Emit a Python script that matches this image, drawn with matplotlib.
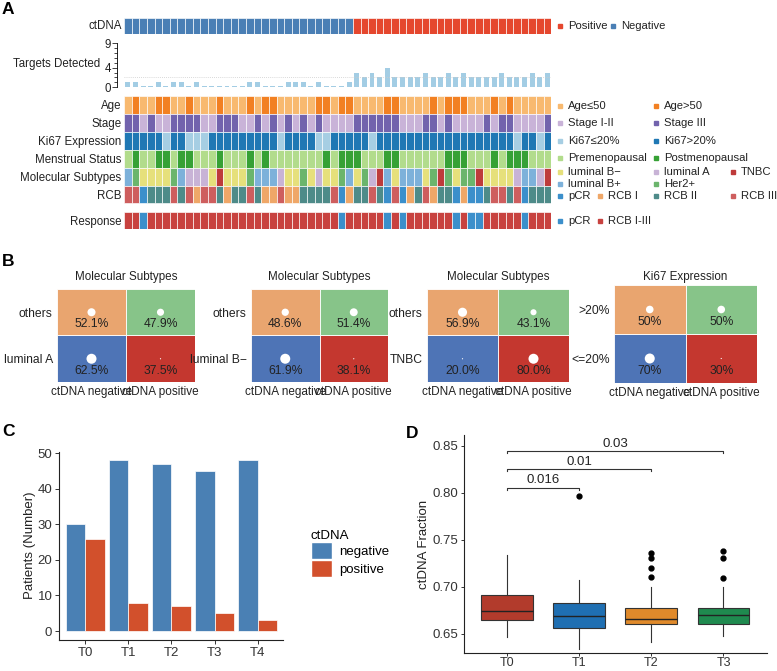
import numpy as np
import matplotlib
matplotlib.use("Agg")
import matplotlib.pyplot as plt
from matplotlib.patches import Patch

plt.rcParams['font.family'] = ['Liberation Sans', 'DejaVu Sans']

# --- Panel A data (56 patients) ---
ctdna = [0, 0, 0, 0, 0, 0, 0, 0, 0, 0, 0, 0, 0, 0, 0, 0, 0, 0, 0, 0, 0, 0, 0, 0, 0, 0, 0, 0, 0, 0,
         1, 1, 1, 1, 1, 1, 1, 1, 1, 1, 1, 1, 1, 1, 1, 1, 1, 1, 1, 1, 1, 1, 1, 1, 1, 1]
targets = [1, 1, 0, 0, 1, 0, 1, 1, 0, 1, 0, 0, 0, 0, 0, 0, 1, 1, 0, 0, 0, 1, 1, 1, 0, 1, 0, 0, 0, 1,
           3, 2, 3, 2, 4, 2, 2, 2, 2, 3, 2, 2, 3, 2, 3, 2, 2, 2, 2, 3, 2, 2, 2, 3, 2, 3]
age = [0, 1, 0, 0, 1, 1, 0, 0, 1, 0, 0, 0, 1, 0, 0, 0, 1, 0, 1, 1, 0, 0, 0, 0, 0, 1, 1, 0, 1, 1,
       0, 0, 0, 0, 1, 1, 0, 0, 0, 0, 1, 0, 1, 1, 1, 0, 0, 0, 1, 0, 1, 0, 0, 0, 0, 0]
stage = [1, 1, 0, 1, 0, 0, 1, 1, 1, 1, 0, 0, 1, 1, 1, 0, 0, 1, 0, 1, 0, 1, 0, 1, 0, 1, 0, 0, 0, 0,
         1, 1, 1, 1, 1, 1, 0, 0, 0, 1, 1, 0, 1, 0, 0, 0, 0, 1, 0, 1, 1, 0, 0, 0, 0, 1]
ki67 = [1, 1, 1, 1, 1, 0, 1, 1, 0, 0, 0, 1, 1, 1, 1, 1, 1, 1, 1, 1, 0, 1, 1, 1, 1, 0, 0, 1, 1, 1,
        1, 1, 0, 1, 1, 1, 1, 1, 1, 1, 1, 1, 1, 1, 1, 1, 1, 1, 1, 1, 1, 0, 1, 1, 0, 1]
menstrual = [0, 1, 0, 0, 1, 1, 0, 1, 1, 0, 0, 0, 1, 0, 0, 0, 1, 0, 1, 0, 0, 0, 0, 0, 0, 0, 1, 0, 1, 1,
             1, 0, 0, 0, 1, 1, 0, 0, 0, 0, 0, 0, 1, 1, 1, 0, 0, 0, 1, 0, 1, 1, 1, 0, 0, 0]
subtype = [3, 4, 0, 0, 0, 0, 4, 3, 1, 1, 1, 0, 2, 0, 0, 0, 4, 3, 3, 3, 1, 0, 0, 4, 0, 1, 0, 0, 4, 3,
           0, 4, 1, 2, 3, 0, 3, 3, 3, 0, 4, 2, 4, 0, 4, 4, 2, 0, 0, 0, 0, 1, 3, 3, 1, 2]
rcb = [3, 3, 0, 2, 2, 2, 3, 2, 3, 1, 3, 3, 2, 1, 2, 2, 3, 2, 1, 1, 3, 1, 1, 2, 2, 2, 2, 3, 0, 1,
       2, 2, 3, 2, 0, 3, 0, 1, 2, 3, 1, 2, 2, 0, 1, 0, 0, 2, 3, 3, 2, 3, 0, 2, 2, 2]
response = [1, 1, 0, 1, 1, 1, 1, 1, 1, 1, 1, 1, 1, 1, 1, 1, 1, 1, 1, 1, 1, 1, 1, 1, 1, 1, 1, 1, 0, 1,
            1, 1, 1, 1, 0, 1, 0, 1, 1, 1, 1, 1, 1, 0, 1, 0, 0, 1, 1, 1, 1, 1, 0, 1, 1, 1]

ctdna_colors = ['#4A7FB5', '#E5472E']
age_colors = ['#F8B96F', '#F28022']
stage_colors = ['#C9B3D8', '#7263AD']
ki67_colors = ['#A6CEE3', '#1F78B4']
mens_colors = ['#B2DC8C', '#36A135']
subtype_colors = ['#E6E07B', '#C8B3D6', '#BE3B3B', '#7DB1DA', '#6BB56C']
rcb_colors = ['#3B8FCB', '#EFA768', '#4E8B89', '#CE5E5E']
resp_colors = ['#3B8FCB', '#C8423F']
target_color = '#A3CDE4'

main_rows = ['Age', 'Stage', 'Ki67 Expression', 'Menstrual Status', 'Molecular Subtypes', 'RCB']

# --- Panel B data (row-wise percentages: ctDNA negative, ctDNA positive) ---
b_titles = ['Molecular Subtypes', 'Molecular Subtypes', 'Molecular Subtypes', 'Ki67 Expression']
b_rows = [['others', 'luminal A'], ['others', 'luminal B\u2212'], ['others', 'TNBC'], ['>20%', '<=20%']]
b_top = [[52.1, 47.9], [48.6, 51.4], [56.9, 43.1], [50, 50]]
b_bottom = [[62.5, 37.5], [61.9, 38.1], [20.0, 80.0], [70, 30]]
b_fmt = ['{:.1f}%', '{:.1f}%', '{:.1f}%', '{:.0f}%']
b_cols = ['ctDNA negative', 'ctDNA positive']

# --- Panel C data ---
timepoints = ['T0', 'T1', 'T2', 'T3', 'T4']
n_negative = [30, 48, 47, 45, 48]
n_positive = [26, 8, 7, 5, 3]

# --- Panel D data (box statistics) ---
d_groups = ['T0', 'T1', 'T2', 'T3']
d_q1 = [0.6646, 0.6563, 0.6608, 0.6608]
d_med = [0.6743, 0.6688, 0.6660, 0.6705]
d_q3 = [0.6918, 0.6830, 0.6771, 0.6771]
d_lo = [0.6472, 0.6340, 0.6417, 0.6479]
d_hi = [0.7341, 0.7070, 0.7001, 0.7001]
d_fliers = [[], [0.7968], [0.7362, 0.7310, 0.7203, 0.7105], [0.7383, 0.7307, 0.7098]]
d_colors = ['#B23B2C', '#1F6FB2', '#E08A2B', '#1F8A4F']
d_pairs = [(0, 1), (0, 2), (0, 3)]
d_pvals = ['0.016', '0.01', '0.03']
d_levels = [0.8051, 0.8247, 0.8442]

W, H = 777, 671
fig = plt.figure(figsize=(W / 100, H / 100), dpi=100)


def add_ax(x0, y0, x1, y1):
    return fig.add_axes([x0 / W, 1 - y1 / H, (x1 - x0) / W, (y1 - y0) / H])


TXT = '#222222'
cols = np.arange(len(ctdna))
XL, XR = 124, 551.3


def cell_row(ax, values, palette, bottom=0):
    ax.bar(cols, 1, bottom=bottom, width=1, color=[palette[v] for v in values],
           edgecolor='white', linewidth=0.45)


# ctDNA row
ax_ct = add_ax(XL, 18, XR, 34.3)
cell_row(ax_ct, ctdna, ctdna_colors)
ax_ct.set_xlim(-0.5, len(cols) - 0.5)
ax_ct.set_ylim(0, 1)
ax_ct.axis('off')

# targets detected barplot
ax_tg = add_ax(XL, 43, XR, 87.3)
tg = np.array(targets, dtype=float)
ax_tg.bar(cols, np.where(tg == 0, 0.2, tg), width=0.65, color=target_color)
ax_tg.axhline(2, color='#CCCCCC', lw=0.6, ls=(0, (1, 1.5)))
ax_tg.set_xlim(-0.5, len(cols) - 0.5)
ax_tg.set_ylim(0, 9)
for s in ['top', 'right', 'bottom']:
    ax_tg.spines[s].set_visible(False)
ax_tg.spines['left'].set_position(('outward', 5))
ax_tg.spines['left'].set_linewidth(0.6)
ax_tg.set_xticks([])
ax_tg.set_yticks([0, 4, 9])
ax_tg.set_yticks(range(10), minor=True)
ax_tg.tick_params(axis='y', which='major', length=3.5, width=0.6, labelsize=8.3, pad=1, colors=TXT)
ax_tg.tick_params(axis='y', which='minor', length=2, width=0.5)

# main annotation block
ax_m = add_ax(XL, 96, XR, 203.5)
for i, (vals, pal) in enumerate(zip([age, stage, ki67, menstrual, subtype, rcb],
                                    [age_colors, stage_colors, ki67_colors, mens_colors,
                                     subtype_colors, rcb_colors])):
    cell_row(ax_m, vals, pal, bottom=i)
ax_m.set_xlim(-0.5, len(cols) - 0.5)
ax_m.set_ylim(len(main_rows), 0)
ax_m.set_xticks([])
ax_m.set_yticks(np.arange(len(main_rows)) + 0.5)
ax_m.set_yticklabels(main_rows, fontsize=8.3, color=TXT)
ax_m.tick_params(axis='y', length=0, pad=2)
for s in ax_m.spines.values():
    s.set_visible(False)

# response row
ax_r = add_ax(XL, 212, XR, 228.5)
cell_row(ax_r, response, resp_colors)
ax_r.set_xlim(-0.5, len(cols) - 0.5)
ax_r.set_ylim(0, 1)
ax_r.set_xticks([])
ax_r.set_yticks([0.5])
ax_r.set_yticklabels(['Response'], fontsize=8.3, color=TXT)
ax_r.tick_params(axis='y', length=0, pad=2)
for s in ax_r.spines.values():
    s.set_visible(False)

# --- Panel B ---
b_boxes = [(57, 289, 195, 382), (251, 289, 388, 382), (427, 289, 569, 382), (614, 285, 757, 383)]
cell_colors = [['#4E74B6', '#C4372F'], ['#E9A56F', '#87C489']]


def dot_diam(p):
    return 1.2 if p < 40 else min(10.0, 6.5 + (p - 45) * 0.22)


for k, box in enumerate(b_boxes):
    ax = add_ax(*box)
    rows_vals = [b_bottom[k], b_top[k]]
    for r in range(2):
        ax.bar([0.5, 1.5], 1, bottom=r, width=1, color=cell_colors[r],
               edgecolor='white', linewidth=0.6)
        for c in range(2):
            p = rows_vals[r][c]
            d = dot_diam(p) * 0.72
            ax.scatter(c + 0.5, r + 0.5, s=d * d, color='white', edgecolors='none', zorder=3)
            ax.text(c + 0.5, r + 0.24, b_fmt[k].format(p), ha='center', va='center',
                    fontsize=8.7, color=TXT)
    ax.set_xlim(0, 2)
    ax.set_ylim(0, 2)
    ax.set_xticks([0.5, 1.5])
    ax.set_xticklabels(b_cols, fontsize=8.5, color=TXT)
    ax.set_yticks([0.5, 1.5])
    ax.set_yticklabels([b_rows[k][1], b_rows[k][0]], fontsize=8.7, color=TXT)
    ax.tick_params(length=0, pad=3)
    for s in ax.spines.values():
        s.set_visible(False)
    fig.text((box[0] + box[2]) / 2 / W, 1 - 277 / H, b_titles[k], ha='center', va='center',
             fontsize=8.4, color=TXT)

# --- Panel C ---
axc = add_ax(59.3, 451.7, 283.5, 639.6)
xc = np.arange(len(timepoints))
axc.bar(xc - 0.225, n_negative, width=0.45, color='#4A80B4', edgecolor='white', linewidth=0.5,
        label='negative')
axc.bar(xc + 0.225, n_positive, width=0.45, color='#D2502C', edgecolor='white', linewidth=0.5,
        label='positive')
axc.set_xlim(-0.6, len(timepoints) - 0.4)
axc.set_ylim(-2.4, 50.4)
axc.set_xticks(xc)
axc.set_xticklabels(timepoints)
axc.set_yticks([0, 10, 20, 30, 40, 50])
axc.tick_params(labelsize=9.5, colors='#333333', length=3, width=0.7, labelcolor='#333333', pad=2)
for s in ['top', 'right']:
    axc.spines[s].set_visible(False)
for s in ['left', 'bottom']:
    axc.spines[s].set_linewidth(0.8)
    axc.spines[s].set_color('#222222')
axc.set_ylabel('Patients (Number)', fontsize=9.5, color=TXT, labelpad=1)
handles = [Patch(facecolor='#4A80B4', edgecolor='white', label='negative'),
           Patch(facecolor='#D2502C', edgecolor='white', label='positive')]
axc.legend(handles=handles, title='ctDNA', loc='upper left', bbox_to_anchor=(304 / W, 1 - 523 / H),
           bbox_transform=fig.transFigure, frameon=False, fontsize=9.5, title_fontsize=9.5,
           handlelength=1.6, handleheight=1.6, labelspacing=0.05, handletextpad=0.6,
           borderpad=0, alignment='left')

# --- Panel D ---
axd = add_ax(464, 435, 766.7, 653)
stats = []
for i in range(len(d_groups)):
    stats.append({'q1': d_q1[i], 'med': d_med[i], 'q3': d_q3[i], 'whislo': d_lo[i],
                  'whishi': d_hi[i], 'fliers': d_fliers[i]})
bp = axd.bxp(stats, positions=np.arange(len(d_groups)), widths=0.72, patch_artist=True,
             showcaps=False,
             boxprops=dict(edgecolor='#333333', linewidth=0.8),
             medianprops=dict(color='#222222', linewidth=1.0),
             whiskerprops=dict(color='#333333', linewidth=0.8),
             flierprops=dict(marker='o', markerfacecolor='black', markeredgecolor='black',
                             markersize=3.5))
for patch, c in zip(bp['boxes'], d_colors):
    patch.set_facecolor(c)
for (a, b), p, lvl in zip(d_pairs, d_pvals, d_levels):
    axd.plot([a, a, b, b], [lvl - 0.002, lvl, lvl, lvl - 0.002], color='#333333', lw=0.8)
    axd.text((a + b) / 2, lvl + 0.0015, p, ha='center', va='bottom', fontsize=9.5, color=TXT)
axd.set_xlim(-0.6, len(d_groups) - 0.4)
axd.set_ylim(0.6298, 0.8612)
axd.set_xticks(np.arange(len(d_groups)))
axd.set_xticklabels(d_groups)
axd.set_yticks([0.65, 0.70, 0.75, 0.80, 0.85])
axd.set_yticklabels(['0.65', '0.70', '0.75', '0.80', '0.85'])
axd.tick_params(labelsize=9.5, colors='#333333', length=2.5, width=0.7, labelcolor='#333333', pad=1.5)
axd.tick_params(axis='x', labelsize=9, pad=0.5)
for s in ['top', 'right']:
    axd.spines[s].set_visible(False)
for s in ['left', 'bottom']:
    axd.spines[s].set_linewidth(0.8)
    axd.spines[s].set_color('#222222')
axd.set_ylabel('ctDNA Fraction', fontsize=9.5, color=TXT, labelpad=2)

# --- overlay: labels and legends in pixel coordinates ---
ov = fig.add_axes([0, 0, 1, 1])
ov.set_xlim(0, W)
ov.set_ylim(H, 0)
ov.axis('off')

ov.text(121.5, 26, 'ctDNA', ha='right', va='center', fontsize=8.3, color=TXT)
ov.text(100, 64, 'Targets Detected', ha='right', va='center', fontsize=8.3, color=TXT)

legend_rows = [
    (26, [(560, 'Positive', ctdna_colors[1]), (613, 'Negative', ctdna_colors[0])]),
    (106, [(560, 'Age\u226450', age_colors[0]), (656, 'Age>50', age_colors[1])]),
    (123, [(560, 'Stage I-II', stage_colors[0]), (656, 'Stage III', stage_colors[1])]),
    (141, [(560, 'Ki67\u226420%', ki67_colors[0]), (656, 'Ki67>20%', ki67_colors[1])]),
    (158, [(560, 'Premenopausal', mens_colors[0]), (656, 'Postmenopausal', mens_colors[1])]),
    (172, [(560, 'luminal B\u2212', subtype_colors[0]), (656, 'luminal A', subtype_colors[1]),
           (733, 'TNBC', subtype_colors[2])]),
    (184, [(560, 'luminal B+', subtype_colors[3]), (656, 'Her2+', subtype_colors[4])]),
    (196, [(560, 'pCR', rcb_colors[0]), (600, 'RCB I', rcb_colors[1]), (656, 'RCB II', rcb_colors[2]),
           (733, 'RCB III', rcb_colors[3])]),
    (221, [(560, 'pCR', resp_colors[0]), (600, 'RCB I-III', resp_colors[1])]),
]
for y, entries in legend_rows:
    for x, lab, col in entries:
        ov.plot(x, y, marker='s', markersize=3, color=col, linestyle='none')
        ov.text(x + 8, y, lab, ha='left', va='center', fontsize=8.1, color=TXT)

for lab, x, y in [('A', 2, 10), ('B', 2, 261), ('C', 2, 432), ('D', 406, 433)]:
    ov.text(x, y, lab, ha='left', va='center', fontsize=12.5, fontweight='bold', color='black')

fig.savefig('out.png', dpi=100)
